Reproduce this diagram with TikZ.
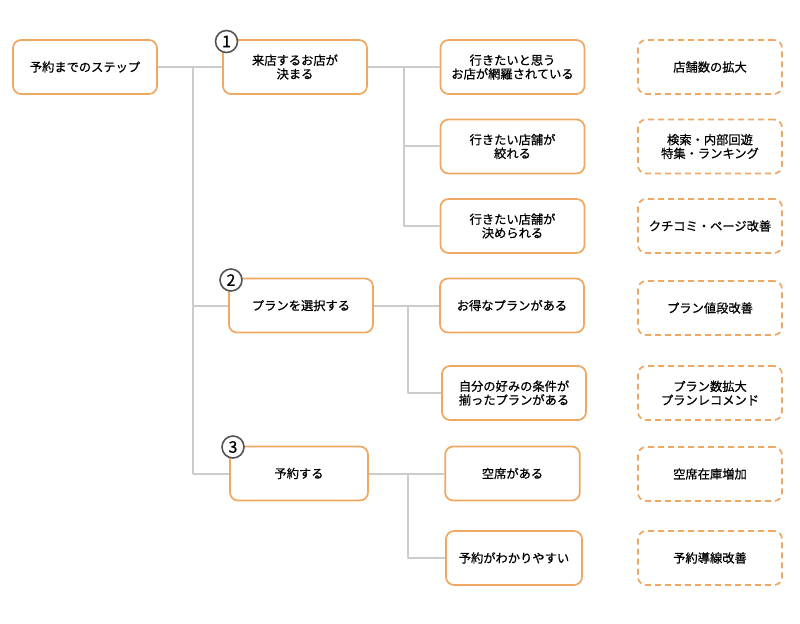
\documentclass[tikz,border=0pt]{standalone}
\usepackage{fontspec}
\newfontfamily\jpfont[FakeBold=0.7]{Noto Sans CJK JP}
\usepackage{tikz}
\usetikzlibrary{calc}
\definecolor{boxorange}{HTML}{EFA862}
\definecolor{linegray}{HTML}{CCCCCC}
\definecolor{numgray}{HTML}{555555}

\begin{document}
\begin{tikzpicture}[x=0.75pt, y=-0.75pt, line join=round,
  stepbox/.style={draw=boxorange, line width=1.3pt, rounded corners=6pt, fill=white,
    minimum width=108pt, minimum height=40.5pt, align=center, inner sep=2pt,
    font=\jpfont\fontsize{9.2}{10.3}\selectfont},
  ideabox/.style={stepbox, dashed, dash pattern=on 4.5pt off 3pt},
  conn/.style={draw=linegray, line width=1.5pt},
  numcirc/.style={circle, draw=numgray, line width=1.2pt, fill=white, inner sep=0pt,
    minimum size=16.5pt, font=\jpfont\fontsize{12}{12}\selectfont}]
  \useasboundingbox (0,0) rectangle (800,624);
  % steps
  \node[stepbox] (root) at (85,67) {予約までのステップ};
  \node[stepbox] (s1) at (295,67) {来店するお店が\\決まる};
  \node[stepbox] (s2) at (301,305.5) {プランを選択する};
  \node[stepbox, minimum width=103.5pt] (s3) at (299,473.5) {予約する};
  % what users want
  \node[stepbox] (a1) at (512.5,67) {行きたいと思う\\お店が網羅されている};
  \node[stepbox] (a2) at (512.5,146.5) {行きたい店舗が\\絞れる};
  \node[stepbox] (a3) at (512.5,226) {行きたい店舗が\\決められる};
  \node[stepbox] (b1) at (512,305.5) {お得なプランがある};
  \node[stepbox] (b2) at (514,393) {自分の好みの条件が\\揃ったプランがある};
  \node[stepbox, minimum width=101pt] (c1) at (512.5,473.5) {空席がある};
  \node[stepbox, minimum width=102pt] (c2) at (514,558) {予約がわかりやすい};
  % measures
  \node[ideabox] (d1) at (710,67) {店舗数の拡大};
  \node[ideabox] (d2) at (710,146.5) {検索・内部回遊\\特集・ランキング};
  \node[ideabox] (d3) at (710,226) {クチコミ・ページ改善};
  \node[ideabox] (d4) at (710,308) {プラン値段改善};
  \node[ideabox] (d5) at (710,393) {プラン数拡大\\プランレコメンド};
  \node[ideabox] (d6) at (710,474) {空席在庫増加};
  \node[ideabox] (d7) at (710,558) {予約導線改善};
  % branch points
  \coordinate (j0) at (193,67);
  \coordinate (j1) at (404,67);
  \coordinate (j2) at (408,305.5);
  \coordinate (j3) at (408,473.5);
  \draw[conn] (root.east) -- (s1.west);
  \draw[conn] (j0) |- (s2.west);
  \draw[conn] (j0) |- (s3.west);
  \draw[conn] (s1.east) -- (a1.west);
  \draw[conn] (j1) |- (a2.west);
  \draw[conn] (j1) |- (a3.west);
  \draw[conn] (s2.east) -- (b1.west);
  \draw[conn] (j2) |- (b2.west);
  \draw[conn] (s3.east) -- (c1.west);
  \draw[conn] (j3) |- (c2.west);
  % step numbers
  \node[numcirc] (n1) at (226.5,41.5) {1};
  \node[numcirc] (n2) at (231,280) {2};
  \node[numcirc] (n3) at (233,447) {3};
\end{tikzpicture}
\end{document}
